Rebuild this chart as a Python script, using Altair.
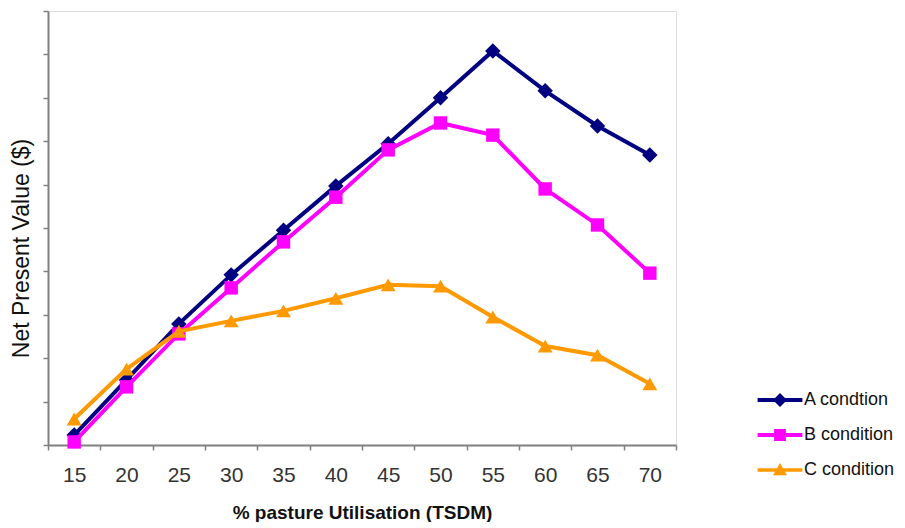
import altair as alt
import pandas as pd

x_labels = [15, 20, 25, 30, 35, 40, 45, 50, 55, 60, 65, 70]
series_names = ["A condtion", "B condition", "C condition"]
a_values = [0.23, 1.50, 2.79, 3.92, 4.95, 5.97, 6.94, 8.00, 9.08, 8.16, 7.35, 6.68]
b_values = [0.07, 1.34, 2.56, 3.62, 4.68, 5.71, 6.80, 7.42, 7.14, 5.90, 5.07, 3.96]
c_values = [0.60, 1.75, 2.62, 2.86, 3.09, 3.38, 3.69, 3.66, 2.95, 2.28, 2.07, 1.41]
colors = ["#000080", "#FF00FF", "#FF9900"]
shapes = ["diamond", "square", "triangle-up"]
marker_sizes = [240, 180, 220]
legend_paths = [
    "M-1.6,-0.14L1.6,-0.14L1.6,0.14L-1.6,0.14Z M0,-0.5L0.5,0L0,0.5L-0.5,0Z",
    "M-1.6,-0.14L1.6,-0.14L1.6,0.14L-1.6,0.14Z M-0.42,-0.42L0.42,-0.42L0.42,0.42L-0.42,0.42Z",
    "M-1.6,-0.12L1.6,-0.12L1.6,0.12L-1.6,0.12Z M0,-0.5L0.5,0.38L-0.5,0.38Z",
]

rows = []
for name, vals in zip(series_names, [a_values, b_values, c_values]):
    for xv, yv in zip(x_labels, vals):
        rows.append({"x": xv, "y": yv, "series": name})
df = pd.DataFrame(rows)

FONT = "Liberation Sans"

x_enc = alt.X(
    "x:O",
    sort=x_labels,
    scale=alt.Scale(paddingInner=0, paddingOuter=0),
    axis=alt.Axis(
        title="% pasture Utilisation (TSDM)",
        labelAngle=0,
        tickBand="extent",
        domainColor="#808080",
        domainWidth=2,
        tickColor="#808080",
        tickWidth=1.5,
        tickSize=5,
        labelFont=FONT,
        labelFontSize=21,
        labelColor="#333333",
        labelPadding=14,
        titleFont=FONT,
        titleFontSize=19,
        titleFontWeight="bold",
        titleColor="#111111",
        titlePadding=18,
    ),
)
y_enc = alt.Y(
    "y:Q",
    scale=alt.Scale(domain=[0, 10], nice=False),
    axis=alt.Axis(
        title="Net Present Value ($)",
        values=list(range(11)),
        labels=False,
        grid=False,
        domainColor="#808080",
        domainWidth=2,
        tickColor="#808080",
        tickWidth=1.5,
        tickSize=5,
        titleFont=FONT,
        titleFontSize=23,
        titleFontWeight="normal",
        titleColor="#111111",
        titlePadding=9,
        titleY=237,
    ),
)

layers = []
for name, col, shp, sz in zip(series_names, colors, shapes, marker_sizes):
    base = alt.Chart(df).transform_filter(alt.datum.series == name)
    layers.append(base.mark_line(color=col, strokeWidth=4).encode(x=x_enc, y=y_enc))
    layers.append(
        base.mark_point(shape=shp, filled=True, color=col, size=sz, opacity=1).encode(x=x_enc, y=y_enc)
    )

legend_kwargs = dict(
    title=None,
    orient="none",
    legendX=718,
    legendY=375,
    symbolSize=784,
    symbolStrokeWidth=0,
    labelFont=FONT,
    labelFontSize=18,
    labelColor="#111111",
    labelOffset=10,
    rowPadding=12,
)

legend_layer = (
    alt.Chart(df)
    .transform_filter("false")
    .mark_point(filled=True, size=784, opacity=1)
    .encode(
        x=x_enc,
        y=y_enc,
        color=alt.Color(
            "series:N",
            scale=alt.Scale(domain=series_names, range=colors),
            legend=alt.Legend(**legend_kwargs),
        ),
        shape=alt.Shape(
            "series:N",
            scale=alt.Scale(domain=series_names, range=legend_paths),
            legend=alt.Legend(**legend_kwargs),
        ),
    )
)
layers.append(legend_layer)

chart = (
    alt.layer(*layers)
    .properties(width=628, height=434, padding={"top": 2, "left": 2, "right": 0, "bottom": 0})
    .configure_view(stroke="#808080", strokeWidth=2)
    .configure(background="white")
)

chart.save("out.html", embed_options={"renderer": "svg", "actions": False})
